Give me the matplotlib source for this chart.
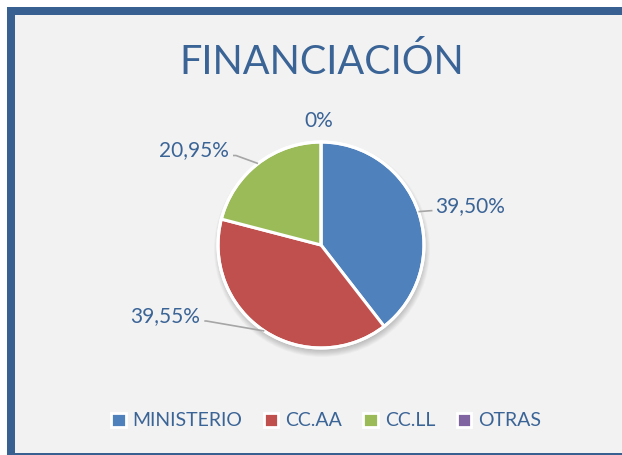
import numpy as np
import matplotlib.pyplot as plt
from matplotlib.patches import Rectangle, Patch, Circle

# data
categories = ["MINISTERIO", "CC.AA", "CC.LL", "OTRAS"]
shares = [39.50, 39.55, 20.95, 0.0]
value_labels = ["39,50%", "39,55%", "20,95%", "0%"]
colors = ["#4F81BD", "#C0504D", "#9BBB59", "#8064A2"]

TXT = "#3B6496"
FRAME = "#386192"
W, H = 622, 455

plt.rcParams["font.family"] = ["Lato", "DejaVu Sans"]

fig = plt.figure(figsize=(W / 100, H / 100), dpi=100)
fig.patch.set_facecolor("white")

# chart frame: thick left/top edges, thin bottom
fig.add_artist(Rectangle((7 / W, 0), 1, 1 - 7 / H, transform=fig.transFigure,
                         facecolor=FRAME, edgecolor="none", zorder=-10))
fig.add_artist(Rectangle((15 / W, 2 / H), 1, 1 - 17 / H, transform=fig.transFigure,
                         facecolor="#F2F2F2", edgecolor="none", zorder=-9))

# axes in pixel units (y up)
ax = fig.add_axes([0, 0, 1, 1])
ax.patch.set_alpha(0)

cx, cy, r = 321, H - 245, 103

# soft shadow under the pie
for k in range(10):
    ax.add_patch(Circle((cx + 1, cy - 4), r + 5 - k * 0.8, facecolor="black",
                        alpha=0.025, edgecolor="none", zorder=1))

wedges, _ = ax.pie(shares, colors=colors, startangle=90, counterclock=False,
                   center=(cx, cy), radius=r, frame=True,
                   wedgeprops=dict(edgecolor="white", linewidth=2.2, zorder=2))
ax.add_patch(Circle((cx, cy), r, facecolor="none", edgecolor="white",
                    linewidth=2.2, zorder=3))
ax.set_xlim(0, W)
ax.set_ylim(0, H)
ax.set_aspect("equal")
ax.axis("off")

# label layout: (text x offset, text y offset, elbow dx, elbow dy, ha) relative to wedge edge point
layout = [
    (14, 1, 13, 1, "left"),
    (-60, 10, -58, 10, "right"),
    (-25, 8, -22, 8, "right"),
    (0, 0, 0, 0, "center"),
]
for w, lab, (tx, ty, ex, ey, ha) in zip(wedges, value_labels, layout):
    ang = np.deg2rad((w.theta1 + w.theta2) / 2)
    px, py = cx + r * np.cos(ang), cy + r * np.sin(ang)
    if w.theta2 - w.theta1 < 0.01:
        ax.text(px - 2, py + 21, lab, ha="center", va="center", fontsize=15, color=TXT)
        continue
    ax.plot([px, px + ex, px + tx], [py, py + ey, py + ty], color="#A6A6A6",
            linewidth=1.2, zorder=4, solid_capstyle="butt")
    ax.text(px + tx + (3 if ha == "left" else -4), py + ty + 5, lab, ha=ha, va="center",
            fontsize=15, color=TXT)

fig.text(322 / W, 1 - 62 / H, "FINANCIACIÓN", ha="center", va="center",
         fontsize=28.5, color=TXT)

handles = [Patch(facecolor=c, edgecolor="white", linewidth=2) for c in colors]
leg = fig.legend(handles, categories, loc="center", bbox_to_anchor=(326 / W, 1 - 421 / H),
                 ncol=4, frameon=False, fontsize=14, handlelength=0.75, handleheight=0.75,
                 handletextpad=0.35, columnspacing=1.1, labelcolor=TXT)

fig.savefig("out.png", dpi=100, facecolor=fig.get_facecolor())
